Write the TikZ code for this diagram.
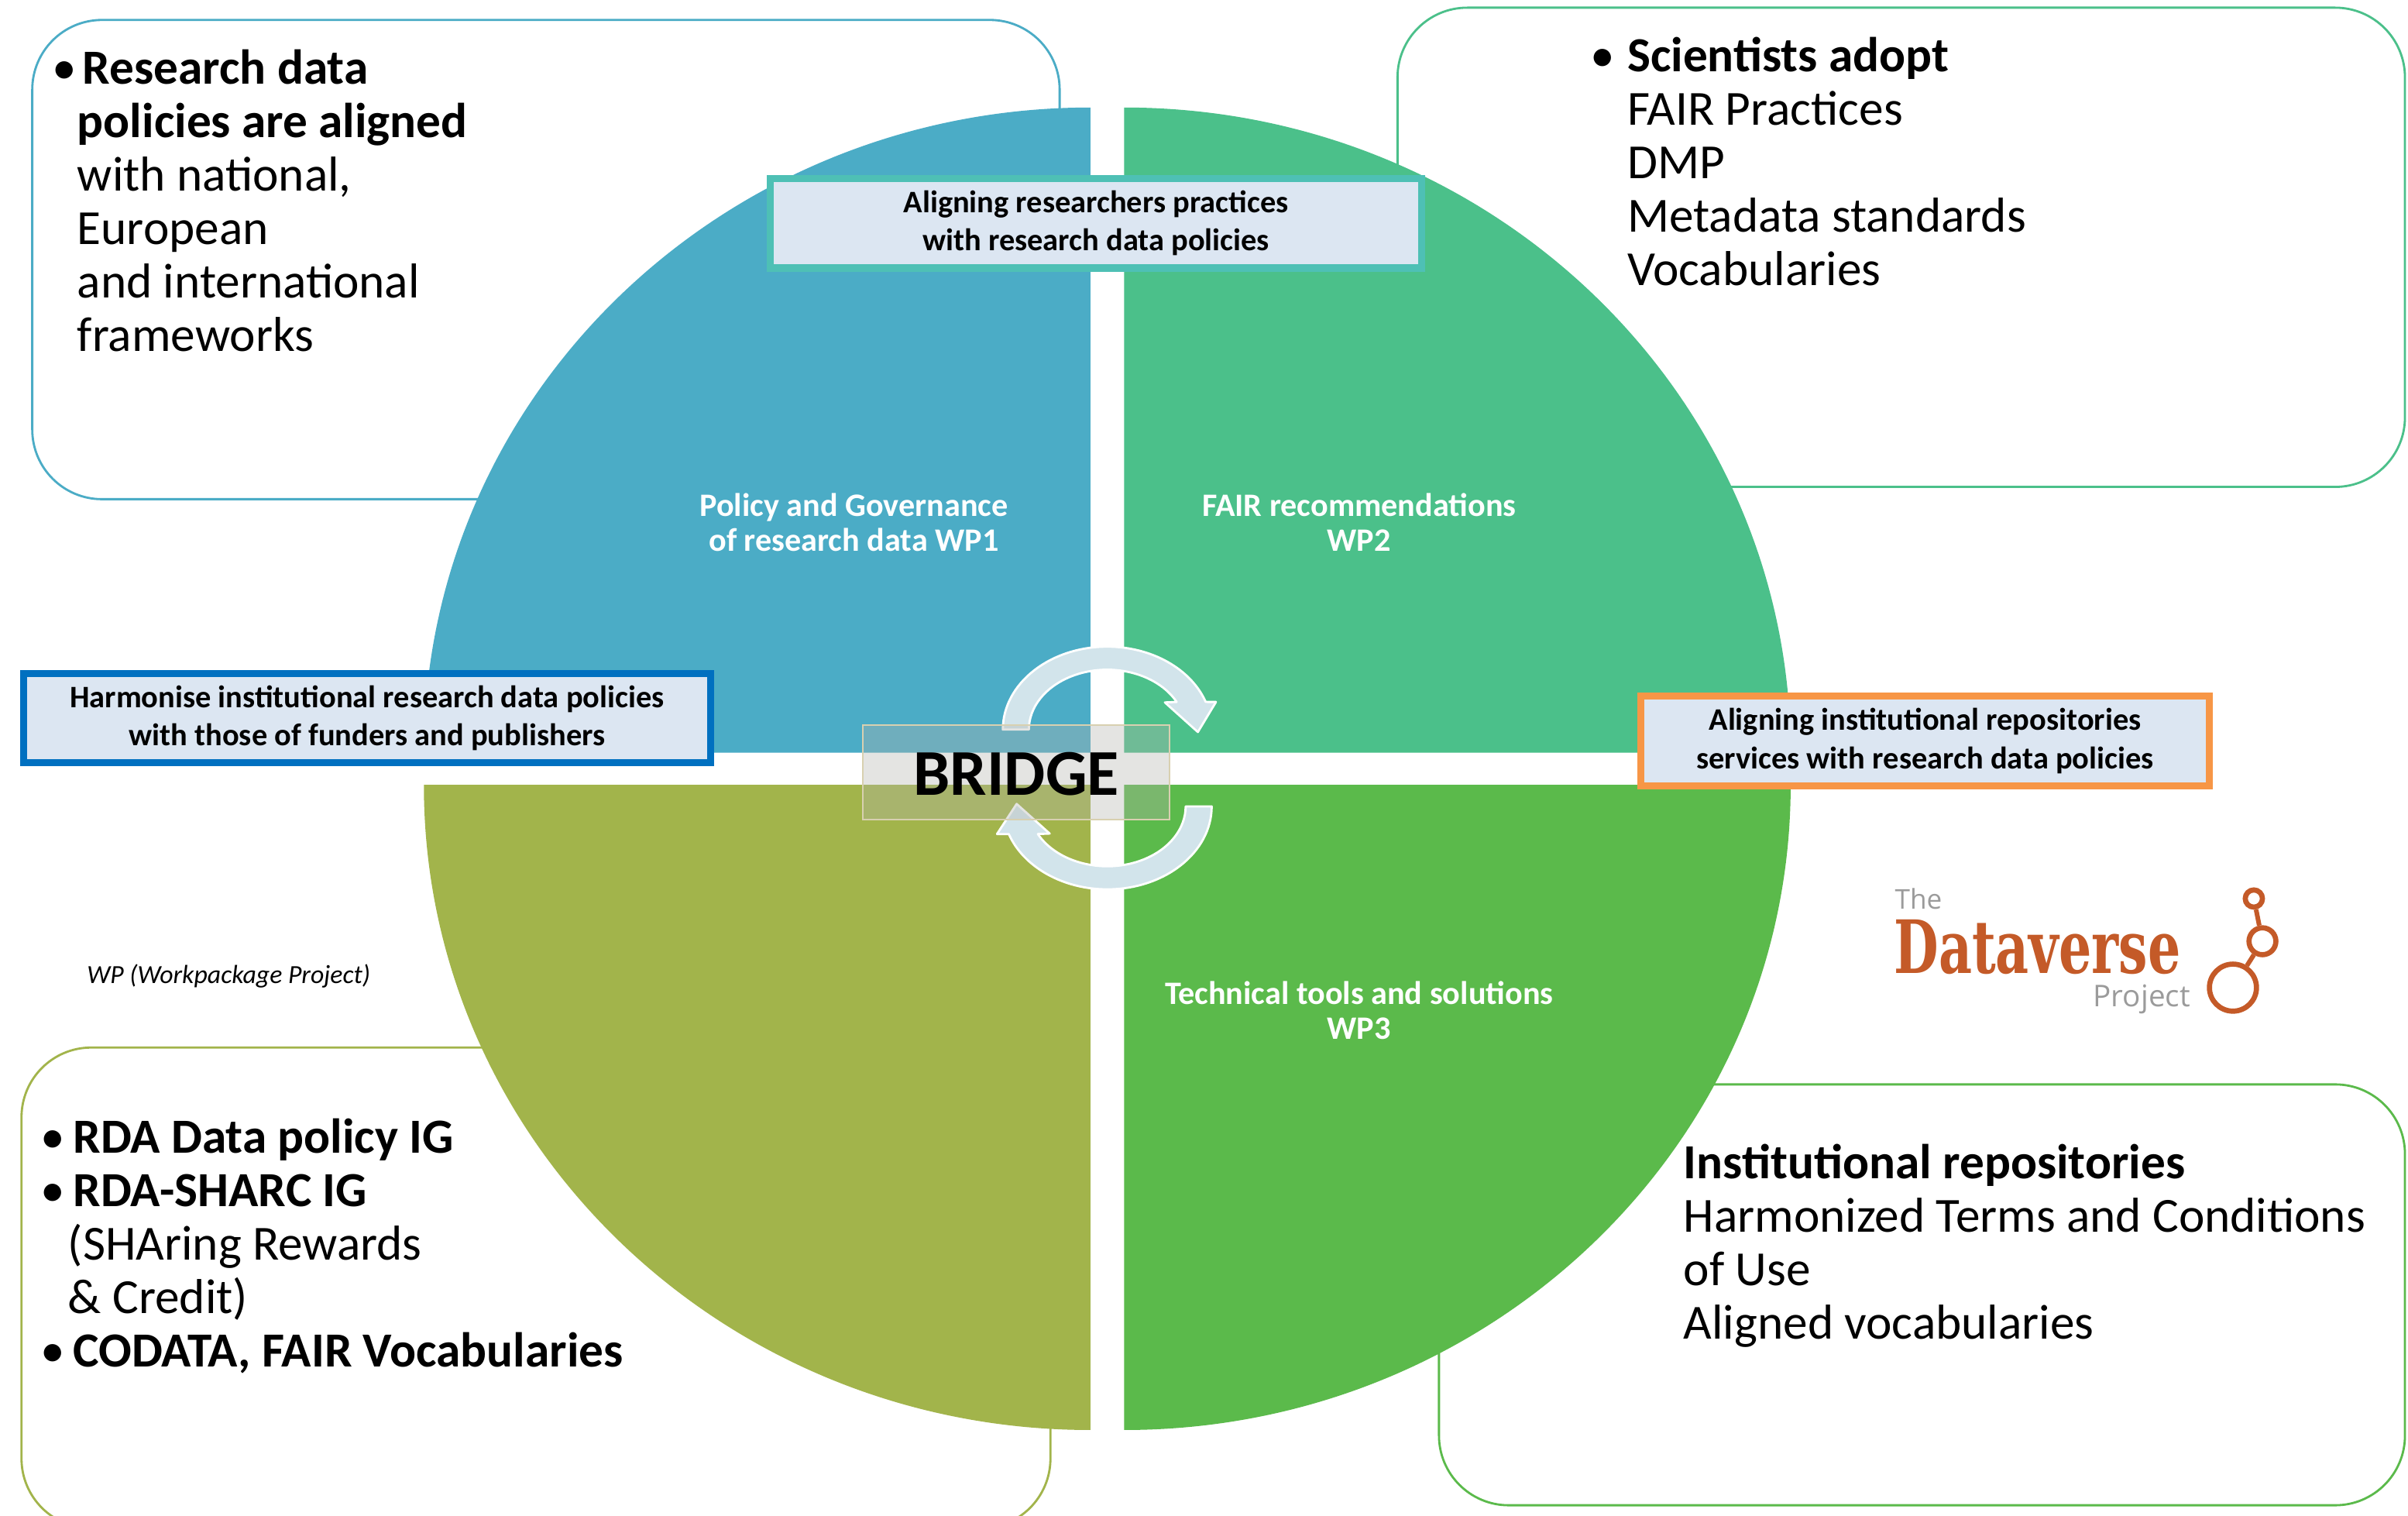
\documentclass[tikz,border=0pt]{standalone}
\usepackage{fontspec}
\setmainfont{Carlito}
\newfontfamily\logoserif{DejaVu Serif}
\newfontfamily\logosans{Open Sans}
\usetikzlibrary{positioning}

\definecolor{policyblue}{HTML}{4BACC6}
\definecolor{fairgreen}{HTML}{4BC08A}
\definecolor{toolgreen}{HTML}{5BBA4B}
\definecolor{rdaolive}{HTML}{A2B44B}
\definecolor{labelfill}{HTML}{DCE6F2}
\definecolor{practteal}{HTML}{4EC0B5}
\definecolor{harmblue}{HTML}{0070C0}
\definecolor{repoorange}{HTML}{F79646}
\definecolor{cyclefill}{HTML}{D2E4EB}
\definecolor{bridgegray}{HTML}{B4B4AE}
\definecolor{bridgeedge}{HTML}{D8D0B0}
\definecolor{logoorange}{HTML}{C45A28}
\definecolor{logogray}{HTML}{9B9B9B}

\begin{document}
\begin{tikzpicture}[
    x=0.019828cm, y=-0.019828cm,
    outcome/.style={draw, line width=0.8pt, rounded corners=0.9cm},
    bigtext/.style={anchor=base west, inner sep=0pt, align=left, font=\fontsize{18}{19.62}\selectfont},
    wplabel/.style={anchor=base, inner sep=0pt, align=center, text=white, font=\bfseries\fontsize{12}{12.75}\selectfont},
    aimbox/.style={draw, line width=2.6pt, fill=labelfill, align=center, inner sep=0pt, minimum height=1.157cm, font=\bfseries\fontsize{11.5}{14.1}\selectfont},
    cyclearrow/.style={fill=cyclefill, draw=white, line width=0.8pt, line join=round},
    ring/.style={circle, draw=logoorange, line width=1.9pt, fill=white, inner sep=0pt},
    ringlink/.style={draw=logoorange, line width=1.7pt},
    logotext/.style={anchor=base west, inner sep=0pt}
]

\useasboundingbox (0,0) rectangle (1568,986.5);
\fill[white] (0,0) rectangle (1568,986.5);

% outcome boxes
\draw[outcome, draw=policyblue] (21,13) rectangle (690,325);
\draw[outcome, draw=fairgreen] (910,5) rectangle (1566,317);
\draw[outcome, draw=rdaolive] (14,682) rectangle (684,995);
\draw[outcome, draw=toolgreen] (937,706) rectangle (1566,980);

% the four work packages
\fill[policyblue] (710,490) -- (276,490) arc[start angle=180, end angle=270, x radius=434, y radius=420] -- cycle;
\fill[fairgreen] (732,490) -- (732,70) arc[start angle=270, end angle=360, x radius=434, y radius=420] -- cycle;
\fill[toolgreen] (732,511) -- (1166,511) arc[start angle=0, end angle=90, x radius=434, y radius=420] -- cycle;
\fill[rdaolive] (710,511) -- (710,931) arc[start angle=90, end angle=180, x radius=434, y radius=420] -- cycle;

% cycle arrows
\filldraw[cyclearrow] (653,475) arc[start angle=180, end angle=340.5, x radius=68, y radius=54]
    -- (791.8,457) -- (780,476.6) -- (758.5,457.3) -- (766.2,457)
    arc[start angle=332.5, end angle=180, x radius=51, y radius=39] -- cycle;
\filldraw[cyclearrow] (789,525) arc[start angle=0, end angle=160.5, x radius=68, y radius=54]
    -- (649.2,543) -- (662,523.4) -- (683.5,542.7) -- (675.8,543)
    arc[start angle=152.5, end angle=0, x radius=51, y radius=39] -- cycle;

\node[draw=bridgeedge, fill=bridgegray, fill opacity=0.35, line width=0.6pt, inner sep=0pt, minimum width=3.958cm, minimum height=1.223cm] (bridgebox) at (661.8,502.85) {};
\node[inner sep=0pt, font=\bfseries\fontsize{24}{24}\selectfont] (bridge) at (661.8,504) {BRIDGE};

% work package labels (anchored on their last line)
\node[wplabel] (wp1) at (556,358.6) {Policy and Governance\\ of research data WP1};
\node[wplabel] (wp2) at (885,358.6) {FAIR recommendations\\ WP2};
\node[wplabel] (wp3) at (885,676.6) {Technical tools and solutions\\ WP3};

% aims
\node[aimbox, draw=practteal, minimum width=8.41cm] (practices) at (713.7,145.3) {Aligning researchers practices\\ with research data policies};
\node[aimbox, draw=harmblue, minimum width=8.87cm] (harmonise) at (239,467.5) {Harmonise institutional research data policies\\ with those of funders and publishers};
\node[aimbox, draw=repoorange, minimum width=7.344cm] (repos) at (1253.5,482.5) {Aligning institutional repositories\\ services with research data policies};

% outcomes (anchored on their last line)
\node[bigtext] (policies) at (50,228.7) {\hspace*{2pt}\llap{•\hspace{2.3pt}}\textbf{Research data}\\ \textbf{policies are aligned}\\ with national,\\ European\\ and international\\ frameworks};
\node[bigtext] (scientists) at (1059.3,186) {\llap{•\hspace{4.7pt}}\textbf{Scientists adopt}\\ FAIR Practices\\ DMP\\ Metadata standards\\ Vocabularies};
\node[bigtext] (rda) at (44,889.8) {\hspace*{1.9pt}\llap{•\hspace{3.1pt}}\textbf{RDA Data policy IG}\\ \hspace*{1.9pt}\llap{•\hspace{3.1pt}}\textbf{RDA-SHARC IG}\\ (SHAring Rewards\\ \& Credit)\\ \hspace*{1.9pt}\llap{•\hspace{3.1pt}}\textbf{CODATA, FAIR Vocabularies}};
\node[bigtext] (repositories) at (1096,871.9) {\textbf{Institutional repositories}\\ Harmonized Terms and Conditions\\ of Use\\ Aligned vocabularies};

\node[anchor=base west, inner sep=0pt, font=\itshape\fontsize{9.6}{10}\selectfont] (wpnote) at (56.3,640.5) {WP (Workpackage Project)};

% dataverse logo
\node[logotext, text=logogray, font=\logosans\fontsize{10}{10}\selectfont] (the) at (1233.6,591.7) {The};
\node[logotext, text=logoorange, font=\logoserif\bfseries\fontsize{27}{27}\selectfont] (dataverse) at (1233,633.8) {\scalebox{0.7}[1]{Dataverse}};
\node[logotext, text=logogray, font=\logosans\fontsize{11}{11}\selectfont] (project) at (1362.7,655.6) {Project};
\node[ring, minimum size=0.222cm] (dotsmall) at (1467.6,585) {};
\node[ring, minimum size=0.347cm] (dotmid) at (1473.2,612.8) {};
\node[ring, minimum size=0.607cm] (dotlarge) at (1454,643) {};
\draw[ringlink] (dotsmall) -- (dotmid);
\draw[ringlink] (dotmid) -- (dotlarge);

\end{tikzpicture}
\end{document}
